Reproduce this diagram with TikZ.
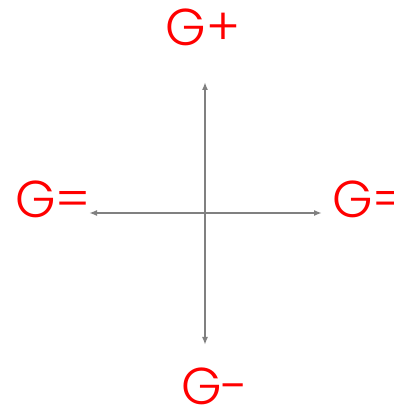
\documentclass[tikz,border=0pt]{standalone}
\usepackage{fontspec}
\setmainfont{Poppins Light}
\usetikzlibrary{arrows.meta,positioning}
\definecolor{gred}{HTML}{FF0000}
\definecolor{axisgray}{HTML}{808080}
\tikzset{
  glabel/.style={font=\fontsize{52}{58}\selectfont,text=gred,inner sep=0pt,anchor=center},
  axis/.style={-{Latex[length=8bp,width=6bp]},draw=axisgray,line width=1.6bp}
}
\begin{document}
\begin{tikzpicture}[x=1bp,y=1bp]
\path[use as bounding box] (0,0) rectangle (394,407);
\coordinate (o) at (205,194);
\coordinate (up) at (205,325);
\coordinate (down) at (205,62);
\coordinate (left) at (89,194);
\coordinate (right) at (322,194);
\draw[axis] (o)--(up); \draw[axis] (o)--(down); \draw[axis] (o)--(left); \draw[axis] (o)--(right);

\node[glabel] (gplus) at (203,380) {G+};
\node[glabel] (gminus) at (215,21) {G-};
\node[glabel] (geqleft) at (53,208) {G=};
\node[glabel,anchor=west] (geqright) at (332,208) {G=};
\end{tikzpicture}
\end{document}
